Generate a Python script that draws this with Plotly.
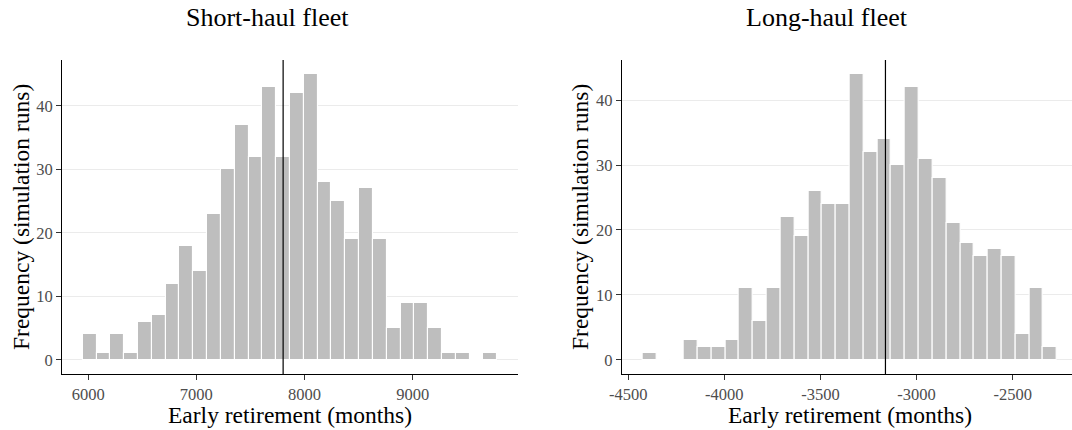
import plotly.graph_objects as go

# ---- data (histogram counts, 30 bins each) ----
short_counts = [4, 1, 4, 1, 6, 7, 12, 18, 14, 23, 30, 37, 32, 43, 32,
                42, 45, 28, 25, 19, 27, 19, 5, 9, 9, 5, 1, 1, 0, 1]
long_counts = [1, 0, 0, 3, 2, 2, 3, 11, 6, 11, 22, 19, 26, 24, 24,
               44, 32, 34, 30, 42, 31, 28, 21, 18, 16, 17, 16, 4, 11, 2]
short_bin_start = 5950.0
short_bin_width = 127.7
long_bin_start = -4426.0
long_bin_width = 71.87
short_mean = 7802
long_mean = -3162
short_ticks = [6000, 7000, 8000, 9000]
long_ticks = [-4500, -4000, -3500, -3000, -2500]
y_ticks = [0, 10, 20, 30, 40]
titles = ["Short-haul fleet", "Long-haul fleet"]
x_title = "Early retirement (months)"
y_title = "Frequency (simulation runs)"

W, H = 1072, 430
FONT = "Liberation Serif"
BAR = "#bebebe"
GRID = "#ebebeb"
TICKC = "#4d4d4d"

# pixel layout of panels
L_X0, L_X1 = 62, 518
R_X0 = 621.7
PANEL_W = 456
P_TOP, P_BOT = 60, 374


def px(x):
    return x / W


def py(y):
    return 1 - y / H


def centers(start, width, n):
    return [start + width * (i + 0.5) for i in range(n)]


def expanded(start, width, n):
    lo, hi = start, start + width * n
    pad = 0.05 * (hi - lo)
    return lo - pad, hi + pad


fig = go.Figure()
fig.add_trace(go.Bar(
    x=centers(short_bin_start, short_bin_width, len(short_counts)),
    y=short_counts, width=short_bin_width,
    marker=dict(color=BAR, line=dict(color="white", width=1.1)),
    xaxis="x", yaxis="y", showlegend=False))
fig.add_trace(go.Bar(
    x=centers(long_bin_start, long_bin_width, len(long_counts)),
    y=long_counts, width=long_bin_width,
    marker=dict(color=BAR, line=dict(color="white", width=1.1)),
    xaxis="x2", yaxis="y2", showlegend=False))

l_lo, l_hi = expanded(short_bin_start, short_bin_width, len(short_counts))
r_lo, r_hi = expanded(long_bin_start, long_bin_width, len(long_counts))
# right panel is clipped at the page edge
r_vis_hi = r_lo + (r_hi - r_lo) * (W - R_X0) / PANEL_W


def y_range(counts):
    m = max(counts)
    return [-0.05 * m, 1.05 * m]


ydom = [py(P_BOT), py(P_TOP)]

common_x = dict(showgrid=False, zeroline=False, showline=True, linecolor="black",
                linewidth=1, ticks="outside", ticklen=5, tickcolor="#333333",
                tickwidth=1, automargin=False,
                tickfont=dict(family=FONT, size=16.5, color=TICKC))
common_y = dict(showgrid=True, gridcolor=GRID, gridwidth=1, zeroline=False,
                showline=True, linecolor="black", linewidth=1, ticks="outside",
                ticklen=5, tickcolor="#333333", tickwidth=1, automargin=False,
                tickvals=y_ticks, tickfont=dict(family=FONT, size=16.5, color=TICKC))

fig.update_layout(
    template="none",
    width=W, height=H, margin=dict(l=0, r=0, t=0, b=0, pad=0),
    plot_bgcolor="white", paper_bgcolor="white", bargap=0,
    font=dict(family=FONT, color="black"),
    xaxis=dict(domain=[px(L_X0), px(L_X1)], range=[l_lo, l_hi],
               tickvals=short_ticks, ticktext=[str(v) for v in short_ticks],
               anchor="y", **common_x),
    yaxis=dict(domain=ydom, range=y_range(short_counts), anchor="x", **common_y),
    xaxis2=dict(domain=[px(R_X0), 1.0], range=[r_lo, r_vis_hi],
                tickvals=long_ticks, ticktext=[str(v) for v in long_ticks],
                anchor="y2", **common_x),
    yaxis2=dict(domain=ydom, range=y_range(long_counts), anchor="x2", **common_y),
)

for xref, m in (("x", short_mean), ("x2", long_mean)):
    fig.add_shape(type="line", xref=xref, yref="paper", x0=m, x1=m,
                  y0=ydom[0], y1=ydom[1], line=dict(color="black", width=1.2))

ann = []
for txt, cx in zip(titles, (267, 827)):
    ann.append(dict(text=txt, x=px(cx), y=py(17), xref="paper", yref="paper",
                    showarrow=False, xanchor="center", yanchor="middle",
                    font=dict(family=FONT, size=26, color="black")))
for cx in ((L_X0 + L_X1) / 2, R_X0 + PANEL_W / 2):
    ann.append(dict(text=x_title, x=px(cx), y=py(415), xref="paper", yref="paper",
                    showarrow=False, xanchor="center", yanchor="middle",
                    font=dict(family=FONT, size=23.5, color="black")))
for cx in (21, 580):
    ann.append(dict(text=y_title, x=px(cx), y=py((P_TOP + P_BOT) / 2),
                    xref="paper", yref="paper", textangle=-90,
                    showarrow=False, xanchor="center", yanchor="middle",
                    font=dict(family=FONT, size=23.5, color="black")))
fig.update_layout(annotations=ann)

# remove the browser's default 8px body margin so the figure fills the window
fig.write_html(
    "out.html",
    config={"displayModeBar": False},
    post_script="document.body.style.margin='0';document.body.style.overflow='hidden';",
)
